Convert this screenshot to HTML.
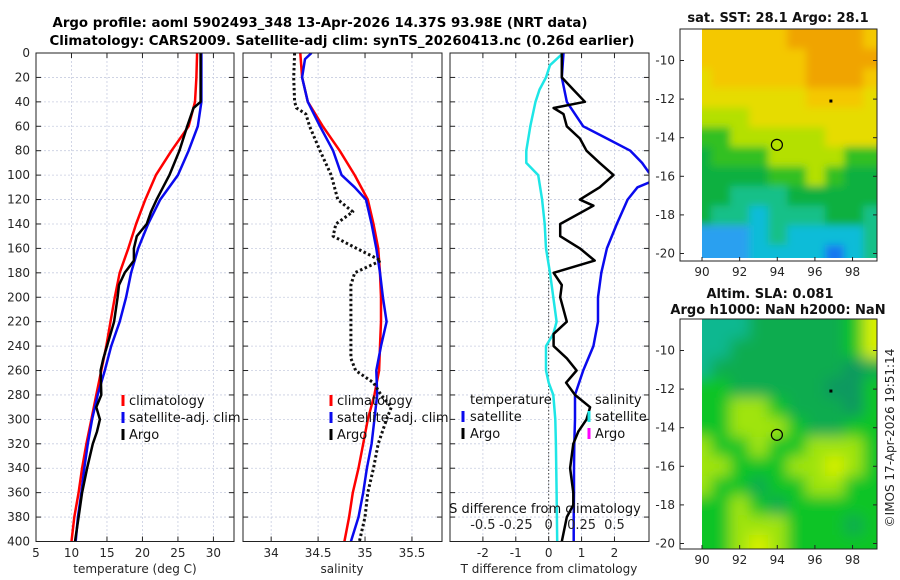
<!DOCTYPE html>
<html><head><meta charset="utf-8"><style>
html,body{margin:0;padding:0;background:#fff;}
svg{display:block;font-family:"DejaVu Sans","Liberation Sans",sans-serif;}
</style></head><body>
<svg id="fig" width="900" height="580" viewBox="0 0 900 580" xmlns="http://www.w3.org/2000/svg">
<defs>
<clipPath id="c1"><rect x="36" y="53" width="198" height="489"/></clipPath>
<clipPath id="c2"><rect x="243" y="53" width="199" height="489"/></clipPath>
<clipPath id="c3"><rect x="450" y="53" width="199" height="489"/></clipPath>
<clipPath id="cm1"><rect x="702" y="29" width="175" height="229"/></clipPath>
<clipPath id="cm2"><rect x="702" y="319" width="175" height="230"/></clipPath>
<filter id="b1" x="-5%" y="-5%" width="110%" height="110%"><feGaussianBlur stdDeviation="4"/></filter>
<filter id="b2" x="-5%" y="-5%" width="110%" height="110%"><feGaussianBlur stdDeviation="7"/></filter>
</defs>
<text x="320" y="27" text-anchor="middle" font-weight="bold" font-size="13" textLength="535" lengthAdjust="spacingAndGlyphs">Argo profile: aoml 5902493_348 13-Apr-2026 14.37S 93.98E (NRT data)</text>
<text x="342" y="45" text-anchor="middle" font-weight="bold" font-size="13" textLength="585" lengthAdjust="spacingAndGlyphs">Climatology: CARS2009. Satellite-adj clim: synTS_20260413.nc (0.26d earlier)</text>
</svg>
<script>
// ---------- data ----------
const depthTicks = [0,20,40,60,80,100,120,140,160,180,200,220,240,260,280,300,320,340,360,380,400];
const climDepths = [0,20,40,60,80,100,120,140,160,180,200,220,240,260,280,300,320,340,360,380,400];
const tempClim = [27.7,27.6,27.4,26.5,24.1,21.9,20.4,19.1,18,16.8,16.1,15.5,14.9,14.2,13.5,12.8,12.1,11.5,11,10.4,10];
const tempSat = [28.3,28.3,28.3,27.8,26.5,25,22.5,20.8,19.4,18.4,17.7,16.8,15.6,14.7,13.7,12.9,12.3,11.8,11.4,10.9,10.6];
const argoTDepths = [0,20,40,45,60,80,100,120,130,140,150,160,170,180,190,200,220,240,250,260,280,290,300,310,320,340,360,380,400];
const argoTemp = [28.2,28.2,28.2,27.2,26.3,25.2,23.8,22,21.2,20.6,19.2,18.8,18.8,17.5,16.7,16.5,16,15,14.5,14.1,14.2,13.5,14,13.6,13,12.2,11.5,11,10.5];
const salClim = [34.31,34.33,34.39,34.55,34.73,34.89,35.03,35.09,35.14,35.16,35.17,35.17,35.16,35.15,35.10,35.03,34.98,34.93,34.87,34.83,34.78];
const salSatDepths = [0,5,20,40,60,80,100,110,120,140,160,180,200,220,240,260,280,300,320,340,360,380,400];
const salSat = [34.43,34.36,34.33,34.39,34.52,34.66,34.75,34.89,35.01,35.07,35.12,35.16,35.19,35.23,35.17,35.12,35.13,35.10,35.07,35.02,34.98,34.93,34.85];
const argoSDepths = [0,20,40,45,50,60,80,100,120,130,140,150,160,170,180,190,220,250,260,270,280,290,300,320,340,360,380,400];
const argoSal = [34.25,34.24,34.25,34.27,34.37,34.41,34.52,34.64,34.71,34.87,34.69,34.66,34.91,35.17,34.89,34.85,34.85,34.85,34.9,35.09,35.17,35.28,35.23,35.14,35.09,35.03,35.0,34.94];
const satDTDepths = [0,20,40,60,70,80,90,98,102,106,110,120,140,160,180,200,220,240,260,280,300,320,340,360,380,400];
const satDT = [0.45,0.4,0.55,1.05,1.77,2.48,2.84,3.05,3.5,3.05,2.7,2.4,2.07,1.77,1.6,1.5,1.5,1.36,1.05,0.8,0.8,0.78,0.77,0.77,0.76,0.76];
const argoDTDepths = [0,20,30,40,45,50,60,70,80,90,100,110,120,125,140,150,160,170,180,190,200,220,230,240,250,260,270,280,290,300,310,320,340,360,370,380,400];
const argoDT = [0.4,0.4,0.75,1.1,0.15,0.45,0.55,0.95,1.15,1.55,1.97,1.55,0.95,1.36,0.35,0.35,0.95,1.4,0.15,0.4,0.35,0.55,0.15,0.15,0.55,0.85,0.53,0.8,1.26,1.15,0.9,0.75,0.65,0.75,0.75,0.55,0.4];
const satDSDepths = [0,10,20,30,40,60,80,90,100,120,140,160,180,200,220,230,240,260,270,280,300,320,360,400];
const satDS = [0.11,0.01,-0.02,-0.07,-0.1,-0.14,-0.17,-0.17,-0.08,-0.05,-0.03,-0.02,0.01,0.035,0.06,0.035,-0.02,-0.02,0,0.035,0.05,0.055,0.06,0.065];
const tempTicks = [5,10,15,20,25,30];
const salTicks = [34,34.5,35,35.5];
const dTTicks = [-2,-1,0,1,2];
const dSTicks = [-0.5,-0.25,0,0.25,0.5];
const dSTickLabels = ["-0.5","-0.25","0","0.25","0.5"];
const lonTicks = [90,92,94,96,98];
const latTicks = [-10,-12,-14,-16,-18,-20];
const argoLon = 93.98, argoLat = -14.37;
const sstCodes = ["YYYYYOOOOY","YYYYYYOOOO","yYYYYYOOOY","yyyyyyYYYy","LLLyyyyyyy","GGLLLLLyyy","gGGGLLLLGG","ggggGGLGgg","ggTTTggggg","gTTCTTTggT","BBBCTCCCCT","BBBCCCCDCT"];
const slaCodes = ["TTTgggggGY","TTggggggGY","Tgggggggdg","GGgggggddG","GGLLGgggdG","GGLLLGggGG","LGGLGGLLLG","LLGGGLLYLG","LGGgGGLLGG","GGLGgGGGGG","GGLLLGGGgG","GGLYLGGGGG"];
const sstPal = {O:"#f0a400",Y:"#f4c800",y:"#e6dc00",L:"#b4e000",G:"#30c020",g:"#10b040",T:"#18c088",C:"#10bcd8",B:"#2aa0f0",D:"#1878f0"};
const slaPal = {T:"#10b890",g:"#10ac50",d:"#109860",G:"#10c428",L:"#a0e410",Y:"#d8f000"};

// ---------- helpers ----------
const NS="http://www.w3.org/2000/svg";
const svg=document.getElementById('fig');
function mk(tag,attrs,parent){const e=document.createElementNS(NS,tag);for(const k in attrs)e.setAttribute(k,attrs[k]);(parent||svg).appendChild(e);return e;}
const top0=53, bot0=541.5;
const yD=d=>top0+(bot0-top0)*d/400;
function scale(d0,d1,p0,p1){return v=>p0+(v-d0)*(p1-p0)/(d1-d0);}
const P=[
 {x0:36,x1:234,sx:scale(5,32.9,36,234),clip:'c1'},
 {x0:243,x1:442,sx:scale(33.7,35.82,243,442),clip:'c2'},
 {x0:450,x1:649,sx:scale(-3,3.05,450,649),clip:'c3'}
];
const sxS = v=>P[2].sx(v*4);

function panelFrame(p,idx){
  const g=mk('g',{});
  
  
  depthTicks.forEach(d=>{
    const y=yD(d);
    const gl=mk('line',{x1:p.x0,x2:p.x1,y1:y,y2:y,stroke:'#c8cde0','stroke-width':0.8,'stroke-dasharray':'2,2'},g);
    
    
    const t1=mk('line',{x1:p.x0,x2:p.x0+5,y1:y,y2:y,stroke:'#222','stroke-width':1},g);
    
    
    const t2=mk('line',{x1:p.x1-5,x2:p.x1,y1:y,y2:y,stroke:'#222','stroke-width':1},g);
    
    
  });
  return g;
}
function xGrid(g,p,ticks,sx){
  ticks.forEach(v=>{
    const x=sx(v);
    const gl=mk('line',{x1:x,x2:x,y1:top0,y2:bot0,stroke:'#c8cde0','stroke-width':0.8,'stroke-dasharray':'2,2'},g);
    
    
    const t1=mk('line',{x1:x,x2:x,y1:bot0-5,y2:bot0,stroke:'#222'},g);
    
    
    const t2=mk('line',{x1:x,x2:x,y1:top0,y2:top0+5,stroke:'#222'},g);
    
    
  });
}
function xLabels(ticks,sx,labels,y,name,fs){
  ticks.forEach((v,i)=>{
    const t=mk('text',{x:sx(v),y:y,'text-anchor':'middle','font-size':fs||12,fill:'#262626'});
    t.textContent=labels?labels[i]:String(v);
    
    
  });
}
function seriesPath(depths,vals,sx,color,w,dash,clip,name){
  let d='';
  vals.forEach((v,i)=>{d+=(i?'L':'M')+sx(v).toFixed(1)+','+yD(depths[i]).toFixed(1);});
  const a={d:d,fill:'none',stroke:color,'stroke-width':w,'stroke-linejoin':'round','clip-path':'url(#'+clip+')'};
  if(dash){a['stroke-dasharray']=dash;}
  const e=mk('path',a);
  
  
  return e;
}
function box(p){
  const r=mk('rect',{x:p.x0,y:top0,width:p.x1-p.x0,height:bot0-top0,fill:'none',stroke:'#222','stroke-width':1});
  
  
}
function legendEntry(mx,tx,y,color,label,name){
  const m=mk('rect',{x:mx-1.5,y:y-6,width:3,height:11,fill:color});
  
  
  const t=mk('text',{x:tx,y:y+4,'font-size':13,fill:'#111'});
  t.textContent=label;
  
  
}
function legendText(x,y,label,name){
  const t=mk('text',{x:x,y:y+4,'font-size':13,fill:'#111'});
  t.textContent=label;
  
  
}

// ---------- panel 1: temperature ----------
let g=panelFrame(P[0],0);
xGrid(g,P[0],tempTicks,P[0].sx);
seriesPath(climDepths,tempClim,P[0].sx,'#ff0000',2.5,null,'c1','temp-climatology-line');
seriesPath(climDepths,tempSat,P[0].sx,'#0a0aee',2.5,null,'c1','temp-satellite-line');
seriesPath(argoTDepths,argoTemp,P[0].sx,'#000',2.5,null,'c1','temp-argo-line');
box(P[0]);
xLabels(tempTicks,P[0].sx,null,557,'temp-x-tick-label');
depthTicks.forEach(d=>{
  const t=mk('text',{x:30,y:yD(d)+4,'text-anchor':'end','font-size':12,fill:'#262626'});
  t.textContent=String(d);
  
  
});
let xt=mk('text',{x:135,y:573,'text-anchor':'middle','font-size':12,fill:'#262626'});
xt.textContent='temperature (deg C)';


legendEntry(123,129,401,'#ff0000','climatology','legend-climatology');
legendEntry(123,129,418,'#0a0aee','satellite-adj. clim','legend-satellite-adj');
legendEntry(123,129,435,'#000','Argo','legend-argo');

// ---------- panel 2: salinity ----------
g=panelFrame(P[1],1);
xGrid(g,P[1],salTicks,P[1].sx);
seriesPath(climDepths,salClim,P[1].sx,'#ff0000',2.5,null,'c2','sal-climatology-line');
seriesPath(salSatDepths,salSat,P[1].sx,'#0a0aee',2.5,null,'c2','sal-satellite-line');
seriesPath(argoSDepths,argoSal,P[1].sx,'#111',3,'2.5,2.5','c2','sal-argo-line');
box(P[1]);
xLabels(salTicks,P[1].sx,null,557,'sal-x-tick-label');
xt=mk('text',{x:342,y:573,'text-anchor':'middle','font-size':12,fill:'#262626'});
xt.textContent='salinity';


legendEntry(331,337,401,'#ff0000','climatology','legend-sal-climatology');
legendEntry(331,337,418,'#0a0aee','satellite-adj. clim','legend-sal-satellite-adj');
legendEntry(331,337,435,'#000','Argo','legend-sal-argo');

// ---------- panel 3: differences ----------
g=panelFrame(P[2],2);
xGrid(g,P[2],dTTicks,P[2].sx);
let zl=mk('line',{x1:P[2].sx(0),x2:P[2].sx(0),y1:top0,y2:bot0,stroke:'#444','stroke-width':1,'stroke-dasharray':'1.5,2'});


seriesPath(satDSDepths,satDS,sxS,'#1ee6e6',2.5,null,'c3','sal-diff-satellite-line');
seriesPath(satDTDepths,satDT,P[2].sx,'#0a0aee',2.5,null,'c3','temp-diff-satellite-line');
seriesPath(argoDTDepths,argoDT,P[2].sx,'#000',2.5,null,'c3','temp-diff-argo-line');
box(P[2]);
xLabels(dTTicks,P[2].sx,null,557,'dT-x-tick-label');
xt=mk('text',{x:549,y:573,'text-anchor':'middle','font-size':12,fill:'#262626'});
xt.textContent='T difference from climatology';


xLabels(dSTicks,sxS,dSTickLabels,529,'dS-tick-label',13);
xt=mk('text',{x:545,y:513,'text-anchor':'middle','font-size':13,fill:'#111'});
xt.textContent='S difference from climatology';


legendText(470,400,'temperature','legend-temperature-heading');
legendEntry(463,470,417,'#0a0aee','satellite','legend-t-satellite');
legendEntry(463,470,434,'#000','Argo','legend-t-argo');
legendText(595,400,'salinity','legend-salinity-heading');
legendEntry(589,595,417,'#1ee6e6','satellite','legend-s-satellite');
legendEntry(589,595,434,'#ff00ff','Argo','legend-s-argo');

// ---------- maps ----------
function drawMap(codes,pal,top,bot,clip,filt,name){
  const bx0=680,bx1=877;
  const lx=scale(88.83,99.3,bx0,bx1);
  const ly=scale(-10,-20,top+31.5,top+224.5);
  const gm=mk('g',{'clip-path':'url(#'+clip+')'});
  
  
  const gi=mk('g',{filter:'url(#'+filt+')'},gm);
  const rows=codes.length, cols=codes[0].length;
  const latTop=-8.4, latBot=-20.6, lonL=89.5, lonR=99.6;
  for(let r=0;r<rows;r++)for(let c=0;c<cols;c++){
    let la0=latTop+(latBot-latTop)*r/rows, la1=latTop+(latBot-latTop)*(r+1)/rows;
    let lo0=lonL+(lonR-lonL)*c/cols, lo1=lonL+(lonR-lonL)*(c+1)/cols;
    if(r===0)la0=-7;
    if(r===rows-1)la1=-22;
    if(c===0)lo0=88;
    if(c===cols-1)lo1=101;
    const cell=mk('rect',{x:lx(lo0)-0.5,y:ly(la0)-0.5,width:lx(lo1)-lx(lo0)+1,height:ly(la1)-ly(la0)+1,fill:pal[codes[r][c]]},gi);
    
    
  }
  const ring=mk('circle',{cx:lx(argoLon),cy:ly(argoLat),r:5.5,fill:'none',stroke:'#000','stroke-width':1.2});
  
  
  const dot=mk('rect',{x:lx(96.85)-1.5,y:ly(-12.1)-1.5,width:3,height:3,fill:'#000'});
  
  
  const fr=mk('rect',{x:bx0,y:top,width:bx1-bx0,height:bot-top,fill:'none',stroke:'#222','stroke-width':1});
  
  
  lonTicks.forEach(v=>{
    const x=lx(v);
    const tk=mk('line',{x1:x,x2:x,y1:bot-4,y2:bot,stroke:'#222'});
    
    
    const t=mk('text',{x:x,y:bot+15,'text-anchor':'middle','font-size':12,fill:'#262626'});
    t.textContent=String(v);
    
    
  });
  latTicks.forEach(v=>{
    const y=ly(v);
    const tk=mk('line',{x1:bx0,x2:bx0+4,y1:y,y2:y,stroke:'#222'});
    
    
    const tk2=mk('line',{x1:bx1-4,x2:bx1,y1:y,y2:y,stroke:'#222'});
    
    
    const t=mk('text',{x:675,y:y+4,'text-anchor':'end','font-size':12,fill:'#262626'});
    t.textContent=String(v);
    
    
  });
}
drawMap(sstCodes,sstPal,29,261,'cm1','b1','sst-map');
drawMap(slaCodes,slaPal,319,549,'cm2','b2','sla-map');
function boldText(x,y,s,name){
  const t=mk('text',{x:x,y:y,'text-anchor':'middle','font-size':13,'font-weight':'bold',fill:'#111'});
  t.textContent=s;
  
  
}
boldText(778,22,'sat. SST: 28.1 Argo: 28.1','sst-map-title');
boldText(770,298,'Altim. SLA: 0.081','sla-map-title');
boldText(778,314,'Argo h1000: NaN h2000: NaN','sla-map-subtitle');
const cp=mk('text',{x:0,y:0,'text-anchor':'middle','font-size':12,fill:'#262626',transform:'translate(894,438) rotate(-90)'});
cp.textContent='©IMOS 17-Apr-2026 19:51:14';


</script>
</body></html>
